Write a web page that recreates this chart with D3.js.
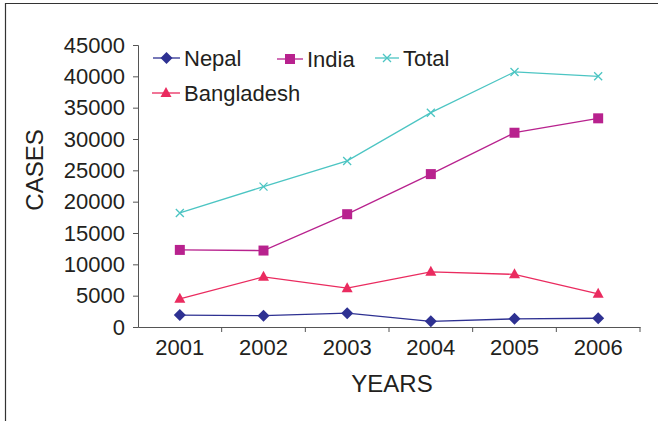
<!DOCTYPE html>
<html><head><meta charset="utf-8">
<script src="https://d3js.org/d3.v7.min.js"></script>
<style>body{margin:0;background:#fff}svg{display:block}text{font-family:"Liberation Sans",Arial,sans-serif;fill:#231f20}</style>
</head><body><svg id="c" width="658" height="421"></svg>
<script>
const years = ["2001","2002","2003","2004","2005","2006"];
const nepal = [1900, 1800, 2200, 900, 1300, 1400];
const india = [12300, 12200, 18000, 24400, 31000, 33300];
const total = [18200, 22400, 26500, 34200, 40700, 40000];
const bangladesh = [4500, 8000, 6200, 8800, 8400, 5300];
const yTicks = [0,5000,10000,15000,20000,25000,30000,35000,40000,45000];

const series = [
  {name:"Nepal", values:nepal, color:"#2e3192", sym:"diamond"},
  {name:"India", values:india, color:"#b8228e", sym:"square"},
  {name:"Total", values:total, color:"#4cc5c3", sym:"cross"},
  {name:"Bangladesh", values:bangladesh, color:"#ea2b5f", sym:"triangle"}
];

const svg = d3.select("#c");
svg.append("path").attr("d","M5.5,421V3.5H658").attr("fill","none").attr("stroke","#333").attr("stroke-width",1.2);

const x = d3.scaleBand().domain(years).range([138,640]);
const y = d3.scaleLinear().domain([0,45000]).range([327,45]);

const yAx = svg.append("g").attr("transform","translate(138,0)")
  .call(d3.axisLeft(y).tickValues(yTicks).tickSize(5).tickPadding(8).tickFormat(d3.format("d")));
yAx.selectAll("text").attr("font-size",22);
yAx.selectAll("line,path").attr("stroke","#555");

const xAx = svg.append("g").attr("transform","translate(0,327)")
  .call(d3.axisBottom(x).tickSize(0).tickPadding(12));
xAx.selectAll("text").attr("font-size",22);
xAx.select("path").attr("stroke","#555");
xAx.selectAll(".bt").data(years).enter().append("line")
  .attr("x1",d=>x(d)+x.bandwidth()).attr("x2",d=>x(d)+x.bandwidth())
  .attr("y1",0).attr("y2",5).attr("stroke","#555");

svg.append("text").attr("x",392).attr("y",392).attr("text-anchor","middle").attr("font-size",24).text("YEARS");
svg.append("text").attr("transform","translate(43,170) rotate(-90)").attr("text-anchor","middle").attr("font-size",24).text("CASES");

function symPath(s){
  if(s==="diamond") return "M0,-6L6,0L0,6L-6,0Z";
  if(s==="square") return "M-5,-5H5V5H-5Z";
  if(s==="triangle") return "M0,-6L5.5,4H-5.5Z";
  return "M-4,-4L4,4M-4,4L4,-4";
}
const cx = d=>x(d)+x.bandwidth()/2;
const line = d3.line().x((d,i)=>cx(years[i])).y(d=>y(d));

series.forEach(s=>{
  svg.append("path").attr("d",line(s.values)).attr("fill","none").attr("stroke",s.color).attr("stroke-width",1.3);
  svg.selectAll(null).data(s.values).enter().append("path")
    .attr("transform",(d,i)=>`translate(${cx(years[i])},${y(d)})`)
    .attr("d",symPath(s.sym))
    .attr("fill",s.sym==="cross"?"none":s.color)
    .attr("stroke",s.color).attr("stroke-width",s.sym==="cross"?1.3:0);
});

const leg = [
  {s:series[0], lx:153, ly:58, tx:184},
  {s:series[1], lx:277, ly:59, tx:307},
  {s:series[2], lx:375, ly:58, tx:403},
  {s:series[3], lx:152, ly:93, tx:184}
];
leg.forEach(l=>{
  const w = l.tx-l.lx-4;
  svg.append("line").attr("x1",l.lx).attr("x2",l.lx+w).attr("y1",l.ly).attr("y2",l.ly).attr("stroke",l.s.color).attr("stroke-width",1.3);
  svg.append("path").attr("transform",`translate(${l.lx+w/2},${l.ly})`).attr("d",symPath(l.s.sym))
    .attr("fill",l.s.sym==="cross"?"none":l.s.color).attr("stroke",l.s.color).attr("stroke-width",l.s.sym==="cross"?1.3:0);
  svg.append("text").attr("x",l.tx).attr("y",l.ly+8).attr("font-size",22).text(l.s.name);
});
</script></body></html>
